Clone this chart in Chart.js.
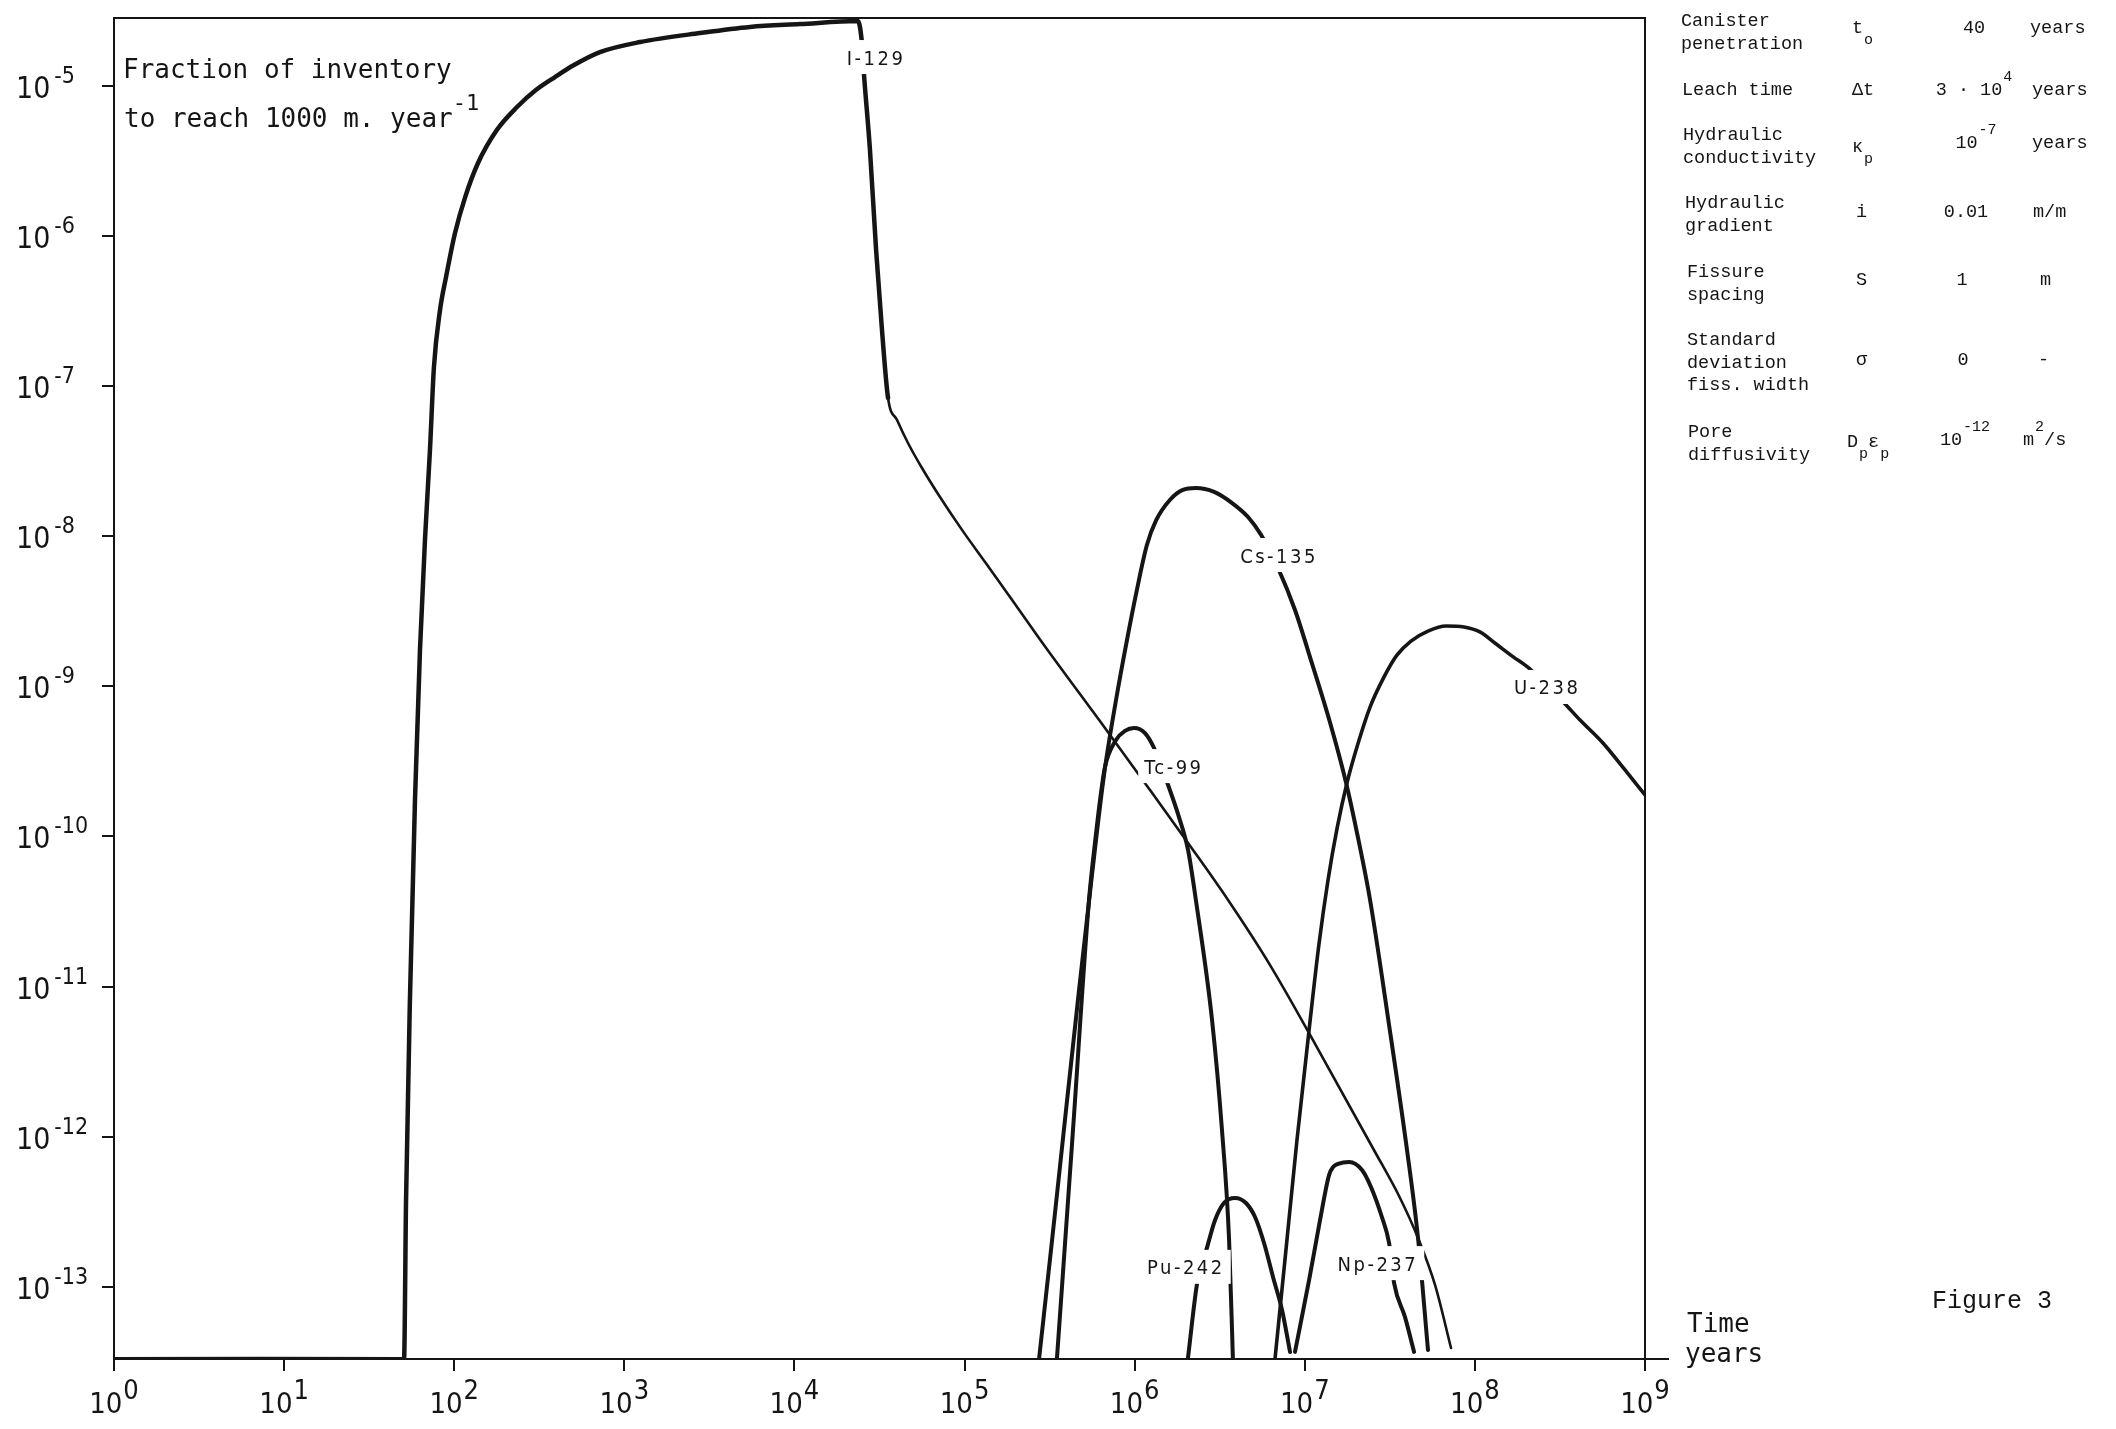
<!DOCTYPE html>
<html>
<head>
<meta charset="utf-8">
<title>Fraction of inventory to reach 1000 m</title>
<script src="https://cdn.jsdelivr.net/npm/chart.js@4.4.1/dist/chart.umd.min.js"></script>
<style>
  html, body { margin: 0; padding: 0; background: #fff; }
  #fig { display: block; }
</style>
</head>
<body>
<canvas id="fig" width="2116" height="1429"></canvas>
<script>
// ── Data ──────────────────────────────────────────────────────────────────────

const xTickValues = [1, 1e1, 1e2, 1e3, 1e4, 1e5, 1e6, 1e7, 1e8, 1e9];
const xTickLabels = ['10^{0}', '10^{1}', '10^{2}', '10^{3}', '10^{4}', '10^{5}', '10^{6}', '10^{7}', '10^{8}', '10^{9}'];
const yTickValues = [1e-5, 1e-6, 1e-7, 1e-8, 1e-9, 1e-10, 1e-11, 1e-12, 1e-13];
const yTickLabels = ['10^{-5}', '10^{-6}', '10^{-7}', '10^{-8}', '10^{-9}', '10^{-10}', '10^{-11}', '10^{-12}', '10^{-13}'];
const X_MIN = 1, X_MAX = 1e9;
const Y_MIN = 3.31e-14, Y_MAX = 2.82e-5;

const i129Years = [1, 50.7, 52.1, 54.9, 58.8, 62.9, 67.3, 72.0, 76.0, 82.5,
  89.5, 101, 116, 138, 178, 234, 302, 391, 506, 719,
  1240, 2790, 5480, 10800, 23600, 24900, 25600, 27800, 30200, 32700,
  35500, 4.01e4, 4.65e4, 5.62e4, 7.17e4, 9.66e4, 1.32e5, 1.85e5, 2.93e5, 6.69e5,
  1.23e6, 2.12e6, 3.54e6, 6.25e6, 1.16e7, 2.55e7, 3.63e7, 4.63e7, 5.83e7, 7.24e7];
const i129Frac = [3.3e-14, 3.3e-14, 3.79e-13, 8.14e-12, 1.75e-10, 1.74e-9, 9.42e-9, 3.74e-8, 1.34e-7, 3.20e-7,
  5.31e-7, 1.04e-6, 1.81e-6, 3.05e-6, 5.06e-6, 7.20e-6, 9.34e-6, 1.14e-5, 1.37e-5, 1.67e-5,
  1.95e-5, 2.24e-5, 2.46e-5, 2.57e-5, 2.69e-5, 1.95e-5, 1.21e-5, 3.72e-6, 8.04e-7, 2.36e-7,
  8.31e-8, 5.93e-8, 4.17e-8, 2.84e-8, 1.82e-8, 1.10e-8, 6.72e-9, 3.93e-9, 1.88e-9, 5.27e-10,
  2.04e-10, 8.64e-11, 3.77e-11, 1.39e-11, 4.08e-12, 8.16e-13, 3.91e-13, 2.12e-13, 1.03e-13, 3.92e-14];

const csYears = [2.74e5, 3.27e5, 3.95e5, 4.71e5, 5.61e5, 6.60e5, 7.77e5, 9.01e5, 1.03e6, 1.18e6,
  1.34e6, 1.61e6, 1.92e6, 2.29e6, 2.93e6, 3.74e6, 4.64e6, 5.53e6, 6.96e6, 8.76e6,
  1.10e7, 1.41e7, 1.75e7, 2.03e7, 2.42e7, 3.13e7, 3.99e7, 4.63e7, 5.30e7];
const csFrac = [3.3e-14, 2.05e-13, 1.51e-12, 9.49e-12, 5.53e-11, 2.56e-10, 8.10e-10, 2.03e-9, 4.37e-9, 8.72e-9,
  1.28e-8, 1.74e-8, 2.03e-8, 2.09e-8, 1.97e-8, 1.66e-8, 1.34e-8, 1.02e-8, 6.13e-9, 3.22e-9,
  1.43e-9, 5.69e-10, 2.27e-10, 1.05e-10, 3.77e-11, 5.55e-12, 8.16e-13, 2.12e-13, 3.80e-14];

const tcYears = [3.49e5, 4.34e5, 5.39e5, 5.93e5, 6.26e5, 6.69e5, 7.77e5, 8.77e5, 9.91e5, 1.15e6,
  1.30e6, 1.55e6, 1.82e6, 2.06e6, 2.29e6, 2.85e6, 3.26e6, 3.59e6, 3.78e6];
const tcFrac = [3.3e-14, 1.11e-12, 3.77e-11, 1.05e-10, 1.75e-10, 2.90e-10, 4.39e-10, 5.04e-10, 5.27e-10, 4.88e-10,
  3.88e-10, 2.30e-10, 1.35e-10, 8.12e-11, 3.77e-11, 5.99e-12, 1.11e-12, 2.05e-13, 3.3e-14];

const puYears = [2.06e6, 2.33e6, 2.66e6, 2.97e6, 3.35e6, 3.89e6, 4.51e6, 5.10e6, 5.76e6, 6.51e6, 7.35e6, 8.19e6];
const puFrac = [3.4e-14, 1.06e-13, 1.82e-13, 2.79e-13, 3.62e-13, 3.91e-13, 3.62e-13, 2.92e-13, 1.96e-13, 1.16e-13, 7.02e-14, 3.69e-14];

const npYears = [8.76e6, 1.06e7, 1.23e7, 1.39e7, 1.47e7, 1.57e7, 1.82e7, 2.17e7, 2.45e7, 2.84e7, 3.13e7, 3.35e7, 3.88e7, 4.39e7];
const npFrac = [3.69e-14, 1.11e-13, 2.79e-13, 5.57e-13, 6.30e-13, 6.60e-13, 6.79e-13, 6.01e-13, 4.63e-13, 2.92e-13, 1.96e-13, 1.06e-13, 6.31e-14, 3.69e-14];

const uYears = [6.68e6, 7.75e6, 9.00e6, 1.06e7, 1.21e7, 1.37e7, 1.55e7, 1.77e7, 2.06e7, 2.42e7,
  2.92e7, 3.48e7, 4.21e7, 5.30e7, 6.77e7, 8.63e7, 1.07e8, 1.31e8, 1.68e8, 2.08e8,
  2.62e8, 3.30e8, 4.15e8, 5.66e8, 7.63e8, 1e9];
const uFrac = [3.3e-14, 1.76e-13, 9.52e-13, 5.14e-12, 1.89e-11, 5.13e-11, 1.14e-10, 2.27e-10, 4.19e-10, 7.27e-10,
  1.15e-9, 1.61e-9, 2.00e-9, 2.33e-9, 2.52e-9, 2.48e-9, 2.30e-9, 1.94e-9, 1.57e-9, 1.32e-9,
  1.00e-9, 7.86e-10, 5.96e-10, 4.19e-10, 2.77e-10, 1.89e-10];

// curve names and where they sit on the plot
const curveLabels = ['I-129', 'Cs-135', 'Tc-99', 'U-238', 'Pu-242', 'Np-237'];
const labelYears = [3.02e4, 7.06e6, 1.70e6, 2.66e8, 2.00e6, 2.69e7];
const labelFrac = [1.55e-5, 7.48e-9, 2.94e-10, 9.89e-10, 1.36e-13, 1.44e-13];

const titleLines = ['Fraction of inventory', 'to reach 1000 m. year^{-1}'];
const axisName = ['Time', 'years'];
const figureName = 'Figure 3';

const paramNames = [['Canister', 'penetration'], ['Leach time'], ['Hydraulic', 'conductivity'],
  ['Hydraulic', 'gradient'], ['Fissure', 'spacing'], ['Standard', 'deviation', 'fiss. width'], ['Pore', 'diffusivity']];
const paramSymbols = ['t_{o}', 'Δt', 'κ_{p}', 'i', 'S', 'σ', 'D_{p}ε_{p}'];
const paramValues = ['40', '3 · 10^{4}', '10^{-7}', '0.01', '1', '0', '10^{-12}'];
const paramUnits = ['years', 'years', 'years', 'm/m', 'm', '-', 'm^{2}/s'];

// ── Styles ────────────────────────────────────────────────────────────────────

const INK = '#151515';
const NARROW = '"Liberation Sans Narrow", "DejaVu Sans Condensed", "Arial Narrow", sans-serif';
const MONO_SANS = '"DejaVu Sans Mono", monospace';
const MONO_TYPE = '"Liberation Mono", "DejaVu Sans Mono", monospace';

const X_TICK_STYLE = { family: NARROW, size: 29, supSize: 27, rise: 14, drop: 0, gap: 1, align: 'center' };
const Y_TICK_STYLE = { family: NARROW, size: 30, supSize: 23, rise: 15, drop: 0, gap: 4, align: 'left' };
const TITLE_STYLE = { family: MONO_SANS, size: 26, supSize: 22, rise: 17, drop: 0, gap: 0, align: 'left' };
const TABLE_STYLE = { family: MONO_TYPE, size: 18.5, supSize: 15, rise: 14, drop: 11, gap: 1, align: 'left' };

// table layout (canvas px)
const rowNameX = [1681, 1682, 1683, 1685, 1687, 1687, 1688];
const rowNameY = [26, 95, 140, 208, 277, 345, 437];
const rowSymX = [1852, 1852, 1852, 1856, 1856, 1856, 1847];
const rowSymY = [33, 95, 152, 217, 285, 365, 447];
const rowValX = [1974, 1974, 1976, 1966, 1962, 1963, 1965];
const rowValY = [33, 95, 148, 217, 285, 365, 445];
const rowUnitX = [2030, 2032, 2032, 2033, 2040, 2038, 2023];

// ── Rich text: "10^{-7}", "t_{o}" ────────────────────────────────────────────

function parseRich(str) {
  const parts = [];
  const re = /([\^_])\{([^}]*)\}|([^\^_]+)/g;
  let m;
  while ((m = re.exec(str))) {
    if (m[3]) parts.push({ t: m[3], k: 0 });
    else parts.push({ t: m[2], k: m[1] === '^' ? 1 : -1 });
  }
  return parts;
}

function drawRich(ctx, str, x, y, st) {
  const parts = parseRich(str);
  const fontOf = k => `${k ? st.supSize : st.size}px ${st.family}`;
  let w = 0;
  parts.forEach(p => {
    ctx.font = fontOf(p.k);
    p.w = ctx.measureText(p.t).width;
    w += p.w + (p.k ? st.gap : 0);
  });
  let cx = st.align === 'center' ? x - w / 2 : st.align === 'right' ? x - w : x;
  ctx.textAlign = 'left';
  ctx.textBaseline = 'alphabetic';
  parts.forEach(p => {
    ctx.font = fontOf(p.k);
    if (p.k) cx += st.gap;
    const dy = p.k === 1 ? -st.rise : p.k === -1 ? st.drop : 0;
    ctx.fillText(p.t, cx, y + dy);
    cx += p.w;
  });
}

// ── Decorations ───────────────────────────────────────────────────────────────

const decor = {
  id: 'decor',
  afterDatasetsDraw(chart) {
    const { ctx, chartArea: a, scales } = chart;
    ctx.save();

    // curve names sit in gaps cut out of the lines
    ctx.font = `20px ${NARROW}`;
    ctx.letterSpacing = '2.5px';
    curveLabels.forEach((name, i) => {
      const x = scales.x.getPixelForValue(labelYears[i]);
      const y = scales.y.getPixelForValue(labelFrac[i]);
      const w = ctx.measureText(name).width;
      ctx.fillStyle = '#fff';
      ctx.fillRect(x - w / 2 - 6, y - 17, w + 12, 34);
      ctx.fillStyle = INK;
      ctx.textAlign = 'center';
      ctx.textBaseline = 'alphabetic';
      ctx.fillText(name, x, y + 7.5);
    });
    ctx.letterSpacing = '0px';

    // frame + the little run-out to "years"
    ctx.strokeStyle = INK;
    ctx.lineWidth = 2;
    ctx.strokeRect(a.left, a.top, a.right - a.left, a.bottom - a.top);
    ctx.beginPath();
    ctx.moveTo(a.right, a.bottom);
    ctx.lineTo(a.right + 24, a.bottom);
    ctx.stroke();
    ctx.restore();
  },
  afterDraw(chart) {
    const { ctx, chartArea: a, scales } = chart;
    ctx.save();
    ctx.fillStyle = INK;

    scales.x.ticks.forEach((tick, i) => {
      drawRich(ctx, xTickLabels[i], scales.x.getPixelForValue(tick.value), a.bottom + 54, X_TICK_STYLE);
    });
    scales.y.ticks.forEach((tick, i) => {
      drawRich(ctx, yTickLabels[i], a.left - 98, scales.y.getPixelForValue(tick.value) + 12, Y_TICK_STYLE);
    });

    drawRich(ctx, titleLines[0], a.left + 9, 78, TITLE_STYLE);
    drawRich(ctx, titleLines[1], a.left + 10, 127, TITLE_STYLE);

    drawRich(ctx, axisName[0], a.right + 42, a.bottom - 27, TITLE_STYLE);
    drawRich(ctx, axisName[1], a.right + 40, a.bottom + 3, TITLE_STYLE);

    ctx.font = `25px ${MONO_TYPE}`;
    ctx.textAlign = 'left';
    ctx.fillText(figureName, 1932, 1308);

    paramNames.forEach((lines, r) => {
      lines.forEach((ln, j) => drawRich(ctx, ln, rowNameX[r], rowNameY[r] + j * 22.5, TABLE_STYLE));
      drawRich(ctx, paramSymbols[r], rowSymX[r], rowSymY[r], TABLE_STYLE);
      drawRich(ctx, paramValues[r], rowValX[r], rowValY[r], { ...TABLE_STYLE, align: 'center' });
      drawRich(ctx, paramUnits[r], rowUnitX[r], rowValY[r], TABLE_STYLE);
    });
    ctx.restore();
  },
};

// ── Chart ─────────────────────────────────────────────────────────────────────

function series(xs, ys) {
  return xs.map((x, i) => ({ x, y: ys[i] }));
}

function curve(label, xs, ys, extra = {}) {
  return { label, data: series(xs, ys), showLine: true, borderColor: INK, borderWidth: 4, ...extra };
}

const tickAxis = {
  ticks: { display: false },
  border: { display: false },
  grid: { drawOnChartArea: false, drawTicks: true, tickLength: 12, color: INK, lineWidth: 2 },
};

new Chart(document.getElementById('fig'), {
  type: 'scatter',
  data: {
    datasets: [
      // thick while the canister leaks, thin tail after the knee
      curve('I-129', i129Years, i129Frac, {
        segment: { borderWidth: ctx => (ctx.p0DataIndex >= 30 ? 2.6 : 4.5) },
      }),
      curve('Cs-135', csYears, csFrac),
      curve('Tc-99', tcYears, tcFrac),
      curve('Pu-242', puYears, puFrac),
      curve('Np-237', npYears, npFrac),
      curve('U-238', uYears, uFrac, { borderWidth: 3.6 }),
    ],
  },
  options: {
    responsive: false,
    animation: false,
    devicePixelRatio: 1,
    layout: { padding: { left: 114, right: 471, top: 18, bottom: 70 } },
    plugins: { legend: { display: false }, tooltip: { enabled: false } },
    elements: {
      point: { radius: 0, hoverRadius: 0 },
      line: { cubicInterpolationMode: 'monotone', borderCapStyle: 'round', borderJoinStyle: 'round', fill: false },
    },
    scales: {
      x: {
        ...tickAxis,
        type: 'logarithmic',
        min: X_MIN,
        max: X_MAX,
        afterBuildTicks: s => { s.ticks = xTickValues.map(value => ({ value })); },
        afterFit: s => { s.height = 0; },
      },
      y: {
        ...tickAxis,
        type: 'logarithmic',
        min: Y_MIN,
        max: Y_MAX,
        afterBuildTicks: s => { s.ticks = yTickValues.map(value => ({ value })); },
        afterFit: s => { s.width = 0; },
      },
    },
  },
  plugins: [decor],
});
</script>
</body>
</html>
